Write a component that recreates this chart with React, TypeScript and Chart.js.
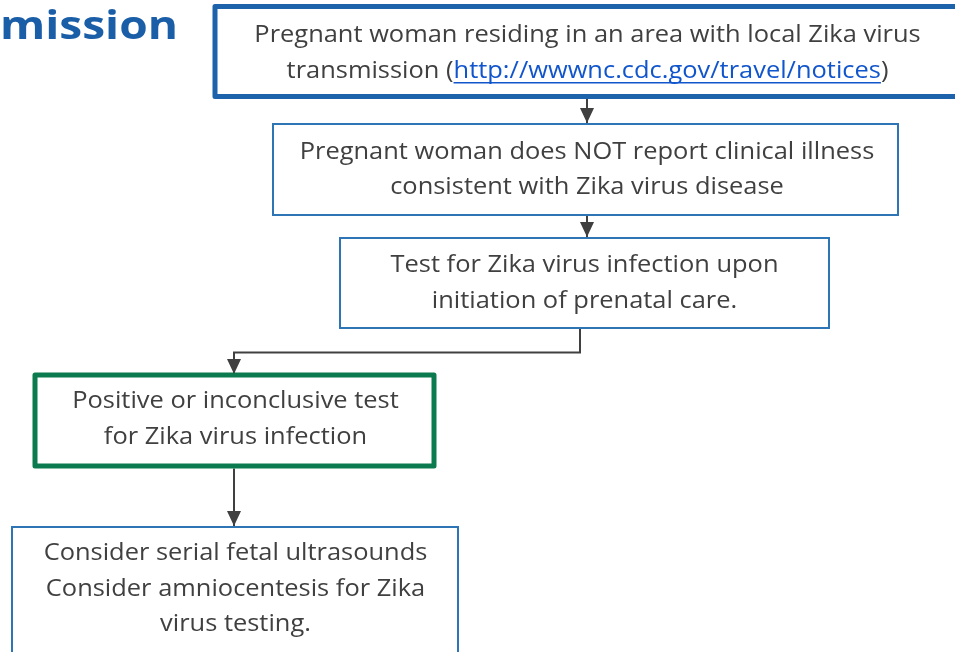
import React, { useEffect, useRef } from "react";
import { Chart, registerables } from "chart.js";

Chart.register(...registerables);

const W = 955;
const H = 652;

// Flowchart nodes (coordinates in the hidden linear scales' units)
const boxLeft = [215, 273, 340, 35, 12];
const boxRight = [975, 898, 829, 434, 458];
const boxTop = [6.5, 124, 238, 375, 527];
const boxBottom = [96.5, 215, 328, 466, 668];
const boxKind = ["blueThick", "blue", "blue", "greenThick", "blue"];

// Text lines for each node; segments between "|" are the link part
const boxLines = [
  [
    "Pregnant woman residing in an area with local Zika virus",
    "transmission (|http://wwwnc.cdc.gov/travel/notices|)",
  ],
  ["Pregnant woman does NOT report clinical illness", "consistent with Zika virus disease"],
  ["Test for Zika virus infection upon", "initiation of prenatal care."],
  ["Positive or inconclusive test", "for Zika virus infection"],
  ["Consider serial fetal ultrasounds", "Consider amniocentesis for Zika", "virus testing."],
];
const textCenterX = [587.5, 587, 584.5, 235.5, 235.5];
const textCenterY = [53, 169.5, 283, 419, 589];
const LINE_GAP = 35.5;

// Connectors (polylines), last point carries an arrowhead
const connectorX = [
  [587, 587],
  [587, 587],
  [580, 580, 234, 234],
  [234, 234],
];
const connectorY = [
  [99, 123],
  [216, 237],
  [329, 352.5, 352.5, 374],
  [468.5, 526],
];

const titleText = "mission";

const COLORS: Record<string, string> = {
  blueThick: "#1c63ab",
  blue: "#2e75b6",
  greenThick: "#0b7a4f",
};
const WIDTHS: Record<string, number> = { blueThick: 5, blue: 2, greenThick: 5 };
const TEXT_COLOR = "#404040";
const LINK_COLOR = "#1155cc";
const LINE_COLOR = "#404040";
const FONT = '24px "Open Sans"';
const SX = 1.06;

export default function App() {
  const ref = useRef<HTMLCanvasElement | null>(null);

  useEffect(() => {
    const canvas = ref.current;
    if (!canvas) return;

    const boxDatasets = boxLeft.map((l, i) => {
      const r = boxRight[i];
      const t = boxTop[i];
      const b = boxBottom[i];
      const kind = boxKind[i];
      return {
        type: "scatter" as const,
        data: [
          { x: l, y: t },
          { x: r, y: t },
          { x: r, y: b },
          { x: l, y: b },
          { x: l, y: t },
          { x: r, y: t },
        ],
        showLine: true,
        borderColor: COLORS[kind],
        borderWidth: WIDTHS[kind],
        borderJoinStyle: kind.endsWith("Thick") ? "round" : "miter",
        borderCapStyle: "butt",
        pointRadius: 0,
        fill: false,
        tension: 0,
        clip: false,
      };
    });

    const connDatasets = connectorX.map((xs, i) => ({
      type: "scatter" as const,
      data: xs.map((x, j) => ({ x, y: connectorY[i][j] })),
      showLine: true,
      borderColor: LINE_COLOR,
      borderWidth: 2,
      pointRadius: 0,
      fill: false,
      tension: 0,
      borderJoinStyle: "miter",
    }));

    const flowPlugin = {
      id: "flowText",
      afterDatasetsDraw(chart: any) {
        const ctx: CanvasRenderingContext2D = chart.ctx;
        const xs = chart.scales.x;
        const ys = chart.scales.y;

        // arrowheads
        connectorX.forEach((cx, i) => {
          const n = cx.length;
          const px = xs.getPixelForValue(cx[n - 1]);
          const py = ys.getPixelForValue(connectorY[i][n - 1]);
          ctx.save();
          ctx.fillStyle = LINE_COLOR;
          ctx.beginPath();
          ctx.moveTo(px, py);
          ctx.lineTo(px - 7, py - 15);
          ctx.lineTo(px + 7, py - 15);
          ctx.closePath();
          ctx.fill();
          ctx.restore();
        });

        // texts
        ctx.save();
        ctx.font = FONT;
        ctx.textBaseline = "middle";
        ctx.textAlign = "left";
        boxLines.forEach((lines, i) => {
          const cx = xs.getPixelForValue(textCenterX[i]);
          const n = lines.length;
          lines.forEach((line, j) => {
            const cyv = textCenterY[i] + (j - (n - 1) / 2) * LINE_GAP;
            const cy = ys.getPixelForValue(cyv);
            const segs = line.split("|");
            const widths = segs.map((s) => ctx.measureText(s).width);
            const total = widths.reduce((a, b) => a + b, 0);
            ctx.save();
            ctx.translate(cx, cy);
            ctx.scale(SX, 1);
            let x = -total / 2;
            segs.forEach((s, k) => {
              const isLink = k === 1;
              ctx.fillStyle = isLink ? LINK_COLOR : TEXT_COLOR;
              ctx.fillText(s, x, 0);
              if (isLink) {
                ctx.strokeStyle = LINK_COLOR;
                ctx.lineWidth = 1.5;
                ctx.beginPath();
                ctx.moveTo(x, 12);
                ctx.lineTo(x + widths[k], 12);
                ctx.stroke();
              }
              x += widths[k];
            });
            ctx.restore();
          });
        });
        ctx.restore();

        // title fragment
        ctx.save();
        ctx.font = 'bold 40px "Open Sans"';
        ctx.fillStyle = "#1a5ea8";
        ctx.textBaseline = "alphabetic";
        ctx.textAlign = "left";
        const tw = ctx.measureText(titleText).width;
        const target = xs.getPixelForValue(178) - xs.getPixelForValue(0);
        ctx.translate(xs.getPixelForValue(0), ys.getPixelForValue(38.5));
        ctx.scale(target / tw, 1);
        ctx.fillText(titleText, 0, 0);
        ctx.restore();
      },
    };

    const chart = new Chart(canvas, {
      type: "scatter",
      data: { datasets: [...boxDatasets, ...connDatasets] as any },
      options: {
        animation: false,
        responsive: false,
        devicePixelRatio: 1,
        layout: { padding: 0 },
        scales: {
          x: { type: "linear", min: 0, max: W, display: false },
          y: { type: "linear", min: 0, max: H, reverse: true, display: false },
        },
        plugins: {
          legend: { display: false },
          tooltip: { enabled: false },
        },
        events: [],
      },
      plugins: [flowPlugin],
    });

    return () => chart.destroy();
  }, []);

  return (
    <div style={{ position: "absolute", left: 0, top: 0, width: W, height: H, background: "#ffffff" }}>
      <canvas ref={ref} width={W} height={H} style={{ display: "block", width: W, height: H }} />
    </div>
  );
}
